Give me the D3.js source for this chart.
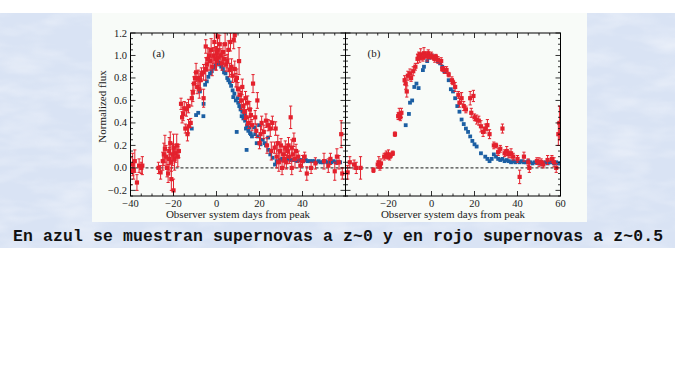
<!DOCTYPE html>
<html>
<head>
<meta charset="utf-8">
<script src="https://cdn.jsdelivr.net/npm/d3@7"></script>
<style>
  body { margin: 0; background: #fff; }
  svg { display: block; }
</style>
</head>
<body>
<script>
// tick labels
var xTicksA = [-40, -20, 0, 20, 40];
var xTicksB = [-20, 0, 20, 40, 60];
var yTicks = [-0.2, 0, 0.2, 0.4, 0.6, 0.8, 1.0, 1.2];

// panel (a): z~0.5 red [day, flux, err], z~0 blue [day, flux]
var redA = [
  [-40,-0.03,0.12],[-39,0.03,0.1],[-38.5,-0.02,0.08],[-38,0.06,0.1],[-37,-0.13,0.07],[-36,0.02,0.06],[-35,0.0,0.05],[-34.5,0.02,0.08],
  [-27,0.0,0.05],[-26,-0.04,0.06],[-25,0.06,0.08],[-24.5,0.12,0.1],[-24,0.17,0.12],[-23.5,0.1,0.1],[-23,0.0,0.08],[-22.5,-0.05,0.08],
  [-22,0.15,0.12],[-22,0.08,0.1],[-21.5,0.22,0.1],[-21,0.05,0.08],[-21,-0.1,0.1],[-20.5,0.12,0.1],[-20,-0.2,0.1],[-20,0.18,0.12],
  [-19.5,0.08,0.1],[-19,0.13,0.08],[-18.5,0.2,0.1],[-18,0.1,0.09],[-17.5,0.15,0.06],
  [-16.5,0.57,0.05],[-16,0.45,0.05],[-15.5,0.48,0.06],[-15,0.53,0.06],[-14.5,0.35,0.04],[-14,0.52,0.06],[-13.5,0.3,0.06],[-13,0.55,0.06],
  [-13,0.37,0.06],[-12,0.4,0.04],[-11.5,0.62,0.07],[-11,0.67,0.08],[-10.5,0.75,0.06],[-10,0.8,0.05],[-9.5,0.85,0.08],[-9,0.72,0.06],
  [-8.5,0.8,0.07],[-8,0.7,0.08],[-7.5,0.78,0.08],[-7,0.83,0.06],[-6,0.85,0.07],[-6,0.62,0.08],[-5,0.88,0.1],[-5,1.08,0.06],
  [-4.5,0.92,0.06],[-4,0.97,0.1],[-3.5,1.0,0.06],[-3,0.95,0.08],[-2.5,1.05,0.1],[-2,0.9,0.08],[-1.5,1.0,0.07],[-1,1.12,0.08],
  [-0.5,0.97,0.1],[0,1.02,0.06],[0,0.95,0.08],[0.5,1.05,0.1],[0.5,1.17,0.06],[1,0.98,0.07],[1.5,1.1,0.08],[2,1.0,0.06],[2.5,0.93,0.06],
  [3,1.03,0.08],[3.5,0.97,0.07],[4,1.1,0.1],[4.5,0.92,0.06],[5,0.95,0.06],[5.5,1.05,0.08],[6,0.87,0.06],[6.5,1.12,0.08],
  [7,0.9,0.07],[7.5,0.82,0.06],[8,1.14,0.08],[8.5,0.88,0.07],[8.5,1.18,0.06],[9,0.78,0.06],[9.5,0.8,0.08],[10,0.7,0.06],[10.5,0.95,0.12],
  [11,0.65,0.07],[11.5,0.6,0.08],[12,0.72,0.07],[12.5,0.55,0.06],[13,0.5,0.07],[13.5,0.62,0.06],[14,0.45,0.07],[14.5,0.58,0.06],
  [15,0.4,0.05],[15.5,0.52,0.07],[16,0.47,0.06],[16.5,0.38,0.05],[17,0.75,0.08],[18,0.45,0.06],[18.5,0.33,0.06],[19,0.6,0.07],
  [20,0.22,0.05],[20.5,0.3,0.07],[21,0.4,0.06],[22,0.32,0.06],[23,0.42,0.06],[23.5,0.2,0.07],[24,0.38,0.05],[25,0.35,0.07],
  [25.5,0.15,0.08],[26,0.4,0.06],[27,0.18,0.05],[27.5,0.35,0.06],[28,0.1,0.1],[28.5,0.22,0.07],[29,0.05,0.08],[29.5,0.15,0.08],
  [30,0.2,0.06],[30.5,0.0,0.06],[31,0.12,0.07],[31.5,0.08,0.08],[32,0.18,0.06],[32.5,0.05,0.06],[33,0.15,0.06],[33.5,0.2,0.07],
  [34,0.1,0.06],[34.5,0.45,0.1],[35,0.18,0.07],[35,0.0,0.06],[35.5,0.12,0.05],[36,0.25,0.06],[36.5,0.08,0.08],[37,0.15,0.06],
  [38,0.1,0.05],[39,0.02,0.05],[40,0.06,0.05],[41,0.1,0.04],[42,-0.05,0.06],[44,0.0,0.05],[46,0.04,0.05],[50,0.06,0.07],
  [52,0.02,0.06],[53,0.08,0.05],[55,-0.03,0.08],[56,0.1,0.07],[57,0.05,0.06],[58,0.3,0.12],[58.5,-0.05,0.05]
];
var blueA = [
  [-11.5,0.35],[-9.5,0.47],[-8.5,0.49],[-7.7,0.68],[-6.1,0.46],[-6,0.57],[-5.3,0.74],[-4.5,0.77],[-3.8,0.81],[-3,0.84],
  [-2.2,0.86],[-1.5,0.89],[-0.5,0.91],[0.1,0.93],[0.8,0.94],[1.5,0.92],[2.2,0.9],[3,0.88],[3.5,0.85],[4.2,0.84],
  [5,0.8],[5.5,0.78],[6.2,0.76],[6.8,0.73],[7.5,0.69],[7.8,0.63],[8.3,0.66],[9,0.6],[9.4,0.32],[9.8,0.62],
  [10.1,0.58],[10.6,0.55],[11.2,0.52],[11.7,0.46],[12,0.5],[12.5,0.44],[13,0.47],[13.3,0.42],[13.7,0.35],[14,0.16],
  [14.2,0.38],[14.8,0.33],[15.2,0.36],[15.6,0.31],[16,0.3],[16.5,0.28],[17.5,0.36],[18,0.3],[18.7,0.22],[19.2,0.28],
  [19.8,0.38],[20.5,0.21],[21.5,0.25],[22.5,0.22],[23,0.2],[24,0.27],[24.1,0.16],[25,0.12],[26.1,0.09],[27.2,0.03],
  [28,0.06],[29.5,0.07],[30.5,0.08],[31.5,0.07],[32.5,0.07],[33.5,0.08],[34.5,0.07],[35.5,0.07],[36.5,0.07],[37.5,0.06],
  [38.5,0.07],[39.5,0.07],[40.5,0.06],[41.5,0.07],[42.5,0.06],[43.5,0.06],[44.5,0.06],[45.5,0.06],[46.5,0.05],[47.5,0.06],
  [48.5,0.05],[49.5,0.05],[50.5,0.06],[51.5,0.05],[52.5,0.05],[53.5,0.05],[54.5,0.06],[55.5,0.05],[56.5,0.05],[57.5,0.05]
];

// panel (b): stretch-corrected
var redB = [
  [-39,-0.04,0.06],[-38,0.05,0.05],[-36,0.03,0.04],[-35,0.0,0.05],[-33,0.0,0.1],
  [-27,-0.02,0.02],[-25,0.03,0.03],[-24.5,0.05,0.05],[-24,0.01,0.03],[-23.5,0.04,0.04],[-22,0.1,0.03],[-21,0.12,0.03],
  [-20.5,0.1,0.02],[-20,0.12,0.04],[-19.5,0.1,0.03],[-19,0.11,0.02],[-18,0.13,0.02],[-17,0.3,0.02],[-15.5,0.46,0.03],
  [-15,0.48,0.05],[-14.5,0.45,0.03],[-14,0.49,0.04],[-12.5,0.78,0.04],[-12,0.75,0.05],[-11.5,0.68,0.05],[-11,0.82,0.04],
  [-10,0.84,0.04],[-9.5,0.8,0.03],[-8.5,0.86,0.04],[-7.5,0.9,0.03],[-6.5,0.97,0.04],[-6,1.0,0.03],[-5.5,0.98,0.04],
  [-5,1.01,0.05],[-4,0.98,0.03],[-3.5,1.02,0.05],[-3,1.0,0.02],[-2,0.99,0.04],[-1.5,1.02,0.03],[-1,0.99,0.02],[0,1.0,0.03],
  [1,0.98,0.02],[1.5,0.97,0.03],[2,0.99,0.02],[3,0.96,0.03],[4.5,0.95,0.03],[5,0.88,0.02],[6,0.87,0.03],[7,0.87,0.03],
  [8,0.83,0.02],[9.5,0.78,0.03],[10,0.76,0.02],[11,0.72,0.04],[12.5,0.65,0.03],[13,0.58,0.04],[14,0.62,0.05],[15,0.55,0.04],
  [16,0.52,0.03],[18,0.62,0.06],[18.5,0.49,0.04],[19.5,0.64,0.05],[20,0.45,0.03],[21,0.43,0.04],[22,0.42,0.04],[23,0.37,0.05],
  [24,0.32,0.04],[25,0.35,0.04],[26,0.38,0.05],[27,0.3,0.04],[29,0.2,0.03],[30,0.2,0.02],[31,0.14,0.03],[32,0.17,0.03],
  [33,0.35,0.04],[34,0.13,0.03],[35,0.15,0.04],[36,0.12,0.03],[37,0.13,0.04],[38,0.1,0.03],[40,0.08,0.03],[41,-0.08,0.06],
  [43,0.1,0.04],[45,0.05,0.03],[45.5,0.0,0.04],[49,0.06,0.03],[50,0.05,0.04],[51,0.05,0.03],[52,0.03,0.03],[54,0.07,0.04],
  [56,0.08,0.03],[57,0.05,0.04],[58,0.0,0.04],[59,0.3,0.1],[59.5,0.4,0.15]
];
var blueB = [
  [-12,0.38],[-10.5,0.48],[-10,0.58],[-9,0.6],[-8,0.72],[-7,0.75],[-6,0.71],[-4,0.87],[-3.5,0.9],[-2,0.95],
  [-1,0.98],[0,1.0],[1,0.99],[2,0.98],[3,0.95],[4,0.93],[5,0.9],[6,0.86],[8,0.78],[9,0.7],
  [10,0.68],[11,0.62],[12,0.55],[13,0.5],[14,0.43],[15,0.39],[16,0.35],[17,0.32],[18,0.28],[19,0.24],
  [20,0.21],[21,0.19],[23,0.13],[25,0.1],[26,0.08],[27,0.06],[28,0.08],[29,0.12],[30,0.1],[31,0.08],
  [32,0.07],[33,0.08],[34,0.06],[35,0.07],[36,0.06],[37,0.05],[38,0.06],[39,0.05],[40,0.06],[41,0.05],
  [42,0.06],[43,0.05],[44,0.05],[45,0.06],[46,0.05],[47,0.04],[48,0.05],[49,0.05],[50,0.04],[51,0.05],
  [52,0.04],[53,0.05],[54,0.04],[55,0.05],[56,0.05],[57,0.04],[58,0.05],[59,0.04],[60,0.04]
];

var W = 675, H = 384;
var svg = d3.select("body").append("svg").attr("width", W).attr("height", H);

// page background: textured blue band with white picture area
var defs = svg.append("defs");
var tex = defs.append("filter").attr("id", "tex").attr("x", 0).attr("y", 0).attr("width", 1).attr("height", 1);
tex.append("feTurbulence").attr("type", "fractalNoise").attr("baseFrequency", "0.02 0.06").attr("numOctaves", 3).attr("seed", 4);
tex.append("feColorMatrix").attr("type", "matrix")
  .attr("values", "0 0 0 0 1  0 0 0 0 1  0 0 0 0 1  0 0 0 1.4 -0.55");
svg.append("rect").attr("x", 0).attr("y", 13).attr("width", W).attr("height", 235).attr("fill", "#d9e3f4");
svg.append("rect").attr("x", 0).attr("y", 13).attr("width", W).attr("height", 235)
  .attr("filter", "url(#tex)").attr("opacity", 0.55);
svg.append("rect").attr("x", 92).attr("y", 13).attr("width", 495).attr("height", 209).attr("fill", "#f8fbf8");

var plotTop = 33, plotBottom = 196;
var y = d3.scaleLinear().domain([-0.25, 1.2]).range([plotBottom, plotTop]);
var panels = [
  {x0: 130.5, x1: 345.5, ticks: xTicksA, red: redA, blue: blueA, tag: "(a)"},
  {x0: 345.5, x1: 560.5, ticks: xTicksB, red: redB, blue: blueB, tag: "(b)"}
];
var serif = "'Liberation Serif', 'DejaVu Serif', serif";
var red = "#e3212d", blue = "#1c5fa3";

panels.forEach(function(p, i) {
  var x = d3.scaleLinear().domain([-40, 60]).range([p.x0, p.x1]);
  var g = svg.append("g");
  var clipId = "clip" + i;
  defs.append("clipPath").attr("id", clipId).append("rect")
    .attr("x", p.x0).attr("y", plotTop).attr("width", p.x1 - p.x0).attr("height", plotBottom - plotTop);
  var plot = g.append("g").attr("clip-path", "url(#" + clipId + ")");

  // zero line
  plot.append("line")
    .attr("x1", p.x0).attr("x2", p.x1).attr("y1", y(0)).attr("y2", y(0))
    .attr("stroke", "#000").attr("stroke-width", 0.9).attr("stroke-dasharray", "3,2");

  // blue squares (z~0)
  plot.selectAll(".b").data(p.blue).enter().append("rect")
    .attr("x", function(d) { return x(d[0]) - 1.9; })
    .attr("y", function(d) { return y(d[1]) - 1.9; })
    .attr("width", 3.8).attr("height", 3.8).attr("fill", blue);

  // red points with error bars (z~0.5)
  var r = plot.selectAll(".r").data(p.red).enter().append("g");
  r.append("line")
    .attr("x1", function(d) { return x(d[0]); }).attr("x2", function(d) { return x(d[0]); })
    .attr("y1", function(d) { return y(d[1] - d[2]); }).attr("y2", function(d) { return y(d[1] + d[2]); })
    .attr("stroke", red).attr("stroke-width", 1);
  [-1, 1].forEach(function(s) {
    r.append("line")
      .attr("x1", function(d) { return x(d[0]) - 1.6; }).attr("x2", function(d) { return x(d[0]) + 1.6; })
      .attr("y1", function(d) { return y(d[1] + s * d[2]); }).attr("y2", function(d) { return y(d[1] + s * d[2]); })
      .attr("stroke", red).attr("stroke-width", 1);
  });
  r.append("rect")
    .attr("x", function(d) { return x(d[0]) - 2.1; })
    .attr("y", function(d) { return y(d[1]) - 2.1; })
    .attr("width", 4.2).attr("height", 4.2).attr("fill", red);

  // ticks on all four sides, pointing in
  var tk = g.append("g").attr("stroke", "#000").attr("stroke-width", 0.8);
  d3.range(-40, 61, 5).forEach(function(v) {
    var len = (v % 20 === 0) ? 5 : 2.5;
    tk.append("line").attr("x1", x(v)).attr("x2", x(v)).attr("y1", plotBottom).attr("y2", plotBottom - len);
    tk.append("line").attr("x1", x(v)).attr("x2", x(v)).attr("y1", plotTop).attr("y2", plotTop + len);
  });
  d3.range(-5, 25).forEach(function(k) {
    var v = k * 0.05;
    var len = (k % 4 === 0) ? 5 : 2.5;
    tk.append("line").attr("x1", p.x0).attr("x2", p.x0 + len).attr("y1", y(v)).attr("y2", y(v));
    tk.append("line").attr("x1", p.x1).attr("x2", p.x1 - len).attr("y1", y(v)).attr("y2", y(v));
  });

  // frame
  g.append("rect").attr("x", p.x0).attr("y", plotTop).attr("width", p.x1 - p.x0).attr("height", plotBottom - plotTop)
    .attr("fill", "none").attr("stroke", "#000").attr("stroke-width", 1);

  // x tick labels
  g.selectAll(".xl").data(p.ticks).enter().append("text")
    .attr("x", function(d) { return x(d); }).attr("y", plotBottom + 11)
    .attr("text-anchor", "middle").attr("font-family", serif).attr("font-size", 10.5).attr("fill", "#222")
    .text(function(d) { return d < 0 ? "\u2212" + Math.abs(d) : d; });

  g.append("text").attr("x", (p.x0 + p.x1) / 2).attr("y", plotBottom + 22)
    .attr("text-anchor", "middle").attr("font-family", serif).attr("font-size", 11).attr("fill", "#222")
    .text("Observer system days from peak");

  g.append("text").attr("x", p.x0 + 22).attr("y", 57)
    .attr("font-family", serif).attr("font-size", 11).attr("fill", "#222").text(p.tag);
});

// y tick labels (left panel only)
svg.selectAll(".yl").data(yTicks).enter().append("text")
  .attr("x", 127).attr("y", function(d) { return y(d) + 3.5; })
  .attr("text-anchor", "end").attr("font-family", serif).attr("font-size", 10.5).attr("fill", "#222")
  .text(function(d) { return (d < 0 ? "\u2212" : "") + Math.abs(d).toFixed(1); });

svg.append("text")
  .attr("transform", "translate(106," + ((plotTop + plotBottom) / 2 - 8) + ") rotate(-90)")
  .attr("text-anchor", "middle").attr("font-family", serif).attr("font-size", 11).attr("fill", "#222")
  .text("Normalized flux");

// caption
svg.append("text").attr("x", 13).attr("y", 241)
  .attr("font-family", "'Liberation Mono', 'DejaVu Sans Mono', monospace").attr("font-weight", "bold")
  .attr("font-size", 16.4).attr("fill", "#111")
  .attr("textLength", 650).attr("lengthAdjust", "spacing")
  .text("En azul se muestran supernovas a z~0 y en rojo supernovas a z~0.5");
</script>
</body>
</html>
